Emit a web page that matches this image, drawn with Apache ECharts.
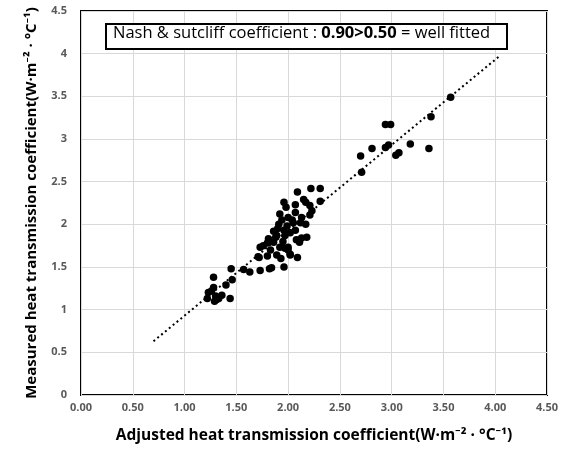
<!DOCTYPE html>
<html><head><meta charset="utf-8">
<script src="https://cdn.jsdelivr.net/npm/echarts@6/dist/echarts.min.js"></script>
<style>html,body{margin:0;padding:0;background:#fff}#c{width:562px;height:449px}</style>
</head><body><div id="c"></div>
<script>
const adjusted = [1.22,1.23,1.26,1.28,1.28,1.30,1.31,1.33,1.36,1.29,1.40,1.44,1.45,1.46,1.57,1.63,1.73,1.82,1.96,1.84,1.71,1.80,1.72,1.89,2.02,2.09,2.02,
  1.73,1.76,1.81,1.86,1.92,1.97,2.00,1.86,1.89,1.97,1.96,2.07,1.91,2.05,2.12,2.17,1.92,2.00,2.07,2.13,2.21,2.23,1.96,2.07,2.15,2.17,2.21,2.31,2.09,2.22,2.31,2.13,2.18,2.08,1.95,1.90,1.94,1.99,2.02,1.83,1.88,1.80,2.04,1.98,2.11,1.93,2.00,
  2.70,2.71,2.81,2.94,2.97,2.94,2.99,3.04,3.07,3.18,3.36,3.38,3.57];
const measured = [1.13,1.20,1.22,1.26,1.38,1.16,1.12,1.13,1.17,1.10,1.29,1.13,1.48,1.35,1.47,1.44,1.46,1.48,1.50,1.49,1.62,1.63,1.61,1.64,1.64,1.61,1.65,
  1.73,1.75,1.83,1.79,1.73,1.72,1.73,1.92,1.87,1.87,1.93,1.93,2.00,2.02,2.02,2.00,2.12,2.08,2.14,2.08,2.11,2.16,2.26,2.23,2.29,2.26,2.22,2.27,2.38,2.42,2.42,1.84,1.85,1.82,1.80,1.95,2.05,1.98,1.90,1.70,1.85,1.78,2.05,2.20,1.79,1.60,1.70,
  2.80,2.61,2.89,2.90,2.93,3.17,3.17,2.81,2.84,2.94,2.89,3.26,3.49];
const trendX = [0.70, 4.05];
const trendY = [0.63, 3.98];
const xTicks = ['0.00','0.50','1.00','1.50','2.00','2.50','3.00','3.50','4.00','4.50'];
const xTitle = 'Adjusted heat transmission coefficient(W·m⁻² · °C⁻¹)';
const yTitle = 'Measured heat transmission coefficient(W·m⁻² · °C⁻¹)';

const chart = echarts.init(document.getElementById('c'));
const font = '"Open Sans", "Noto Sans", sans-serif';
chart.setOption({
  animation: false,
  grid: {left: 81, right: 15, top: 11, bottom: 52, show: true, borderColor: '#000', borderWidth: 2, backgroundColor: 'transparent'},
  xAxis: {
    type: 'value', min: 0, max: 4.5, interval: 0.5,
    axisLine: {show: false}, axisTick: {show: false},
    splitLine: {lineStyle: {color: '#d9d9d9', width: 1}},
    axisLabel: {color: '#595959', fontWeight: 'bold', fontSize: 11, fontFamily: font, margin: 7,
      formatter: v => xTicks[Math.round(v / 0.5)]},
    name: xTitle, nameLocation: 'middle', nameGap: 33,
    nameTextStyle: {color: '#000', fontWeight: 'bold', fontSize: 15.5, fontFamily: font}
  },
  yAxis: {
    type: 'value', min: 0, max: 4.5, interval: 0.5,
    axisLine: {show: false}, axisTick: {show: false},
    splitLine: {lineStyle: {color: '#d9d9d9', width: 1}},
    axisLabel: {color: '#595959', fontWeight: 'bold', fontSize: 11, fontFamily: font, margin: 14},
    name: yTitle, nameLocation: 'middle', nameGap: 42,
    nameTextStyle: {color: '#000', fontWeight: 'bold', fontSize: 15, fontFamily: font}
  },
  series: [
    {type: 'line', data: trendX.map((x, i) => [x, trendY[i]]), symbol: 'none',
      lineStyle: {color: '#000', width: 2, type: [2, 3]}, z: 1},
    {type: 'scatter', data: adjusted.map((x, i) => [x, measured[i]]), symbolSize: 7.5,
      itemStyle: {color: '#000', opacity: 1}, z: 2}
  ],
  graphic: [{
    type: 'rect', left: 105, top: 23, shape: {width: 401, height: 25},
    style: {fill: '#fff', stroke: '#000', lineWidth: 2}, z: 10
  }, {
    type: 'text', left: 113, top: 25, z: 11,
    style: {
      text: '{n|Nash & sutcliff coefficient : }{b|0.90>0.50}{n| = well fitted}',
      rich: {
        n: {fontSize: 16.5, fontFamily: font, fill: '#000', fontWeight: 'normal'},
        b: {fontSize: 16.5, fontFamily: font, fill: '#000', fontWeight: 'bold'}
      }
    }
  }]
});
</script></body></html>
